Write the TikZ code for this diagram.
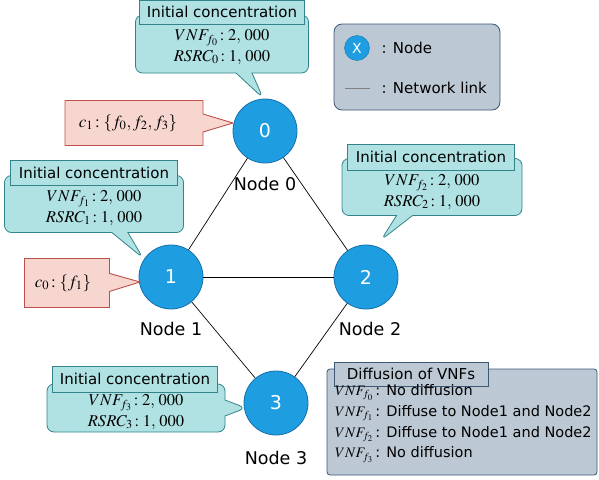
\documentclass[tikz,border=0pt]{standalone}
\usepackage{mathptmx}
\usepackage{fontspec}
\setsansfont{DejaVu Sans}
\usetikzlibrary{positioning,shapes.callouts}

\definecolor{nodeblue}{RGB}{30,158,224}
\definecolor{nodeedge}{RGB}{22,112,172}
\definecolor{tealfill}{RGB}{176,226,228}
\definecolor{tealedge}{RGB}{50,132,138}
\definecolor{redfill}{RGB}{248,214,208}
\definecolor{rededge}{RGB}{190,78,72}
\definecolor{grayfill}{RGB}{188,200,212}
\definecolor{grayedge}{RGB}{60,88,116}

\begin{document}
\begin{tikzpicture}[x=1pt,y=-1pt,
  netnode/.style={circle,draw=nodeedge,thick,fill=nodeblue,minimum size=64pt,inner sep=0pt,text=white,font=\sffamily\fontsize{19}{21}\selectfont},
  nodelab/.style={font=\sffamily\fontsize{17.5}{19}\selectfont},
  link/.style={draw=black,line width=0.7pt},
  initbox/.style={rectangle callout,draw=tealedge,line width=0.8pt,fill=tealfill,rounded corners=7pt,callout pointer width=16pt,inner sep=0pt},
  inithead/.style={rectangle,draw=tealedge,line width=0.8pt,fill=tealfill,inner sep=0pt,font=\sffamily\fontsize{15}{17}\selectfont},
  inittxt/.style={align=center,font=\fontsize{16.5}{20.5}\selectfont},
  confbox/.style={rectangle callout,draw=rededge,line width=0.9pt,fill=redfill,callout pointer width=18pt,inner sep=0pt,font=\fontsize{17}{19}\selectfont},
  infobox/.style={rectangle,draw=grayedge,line width=0.8pt,fill=grayfill,inner sep=0pt},
  infotxt/.style={font=\sffamily\fontsize{15}{17}\selectfont},
]
\useasboundingbox (0,0) rectangle (599,479);

% network nodes
\node[netnode] (n0) at (265,131) {0};
\node[netnode] (n1) at (171,277) {1};
\node[netnode] (n2) at (366,277) {2};
\node[netnode] (n3) at (276,403) {3};
\node[nodelab,below=10pt of n0] (l0) {Node 0};
\node[nodelab,below=9pt of n1] (l1) {Node 1};
\node[nodelab,below=9pt of n2,xshift=4pt] (l2) {Node 2};
\node[nodelab,below=12pt of n3] (l3) {Node 3};

% links
\draw[link] (n0) -- (n1);
\draw[link] (n0) -- (n2);
\draw[link] (n1) -- (n2);
\draw[link] (n1) -- (n3);
\draw[link] (n2) -- (n3);

% initial concentration callouts
\node[initbox,minimum width=173pt,minimum height=58pt,callout absolute pointer={(263,98)}] (ic0) at (222,44) {};
\node[inithead,minimum width=165pt,minimum height=24pt] (h0) at (222,12) {Initial concentration};
\node[inittxt] (v0) at (222,47) {$VNF_{f_0}\!:2,\,000$\\$RSRC_0\!:1,\,000$};

\node[initbox,minimum width=179pt,minimum height=57pt,callout absolute pointer={(143,258)}] (ic1) at (94,204) {};
\node[inithead,minimum width=167pt,minimum height=25pt] (h1) at (94,173) {Initial concentration};
\node[inittxt] (v1) at (94,208) {$VNF_{f_1}\!:2,\,000$\\$RSRC_1\!:1,\,000$};

\node[initbox,minimum width=180pt,minimum height=57pt,callout absolute pointer={(381,240)}] (ic2) at (432,187) {};
\node[inithead,minimum width=167pt,minimum height=26pt] (h2) at (431,157) {Initial concentration};
\node[inittxt] (v2) at (432,192) {$VNF_{f_2}\!:2,\,000$\\$RSRC_2\!:1,\,000$};

\node[initbox,minimum width=178pt,minimum height=48pt,callout absolute pointer={(246,408)}] (ic3) at (136,408) {};
\node[inithead,minimum width=165pt,minimum height=26pt] (h3) at (135,379) {Initial concentration};
\node[inittxt] (v3) at (136,412) {$VNF_{f_3}\!:2,\,000$\\$RSRC_3\!:1,\,000$};

% content callouts
\node[confbox,minimum width=138pt,minimum height=45pt,callout absolute pointer={(233,123)}] (c1) at (134,123) {$c_1\!:\{f_0,f_2,f_3\}$\hspace*{12pt}};
\node[confbox,minimum width=85pt,minimum height=49pt,callout absolute pointer={(140,282)}] (c0) at (67,283) {$c_0\!:\{f_1\}$\hspace*{8pt}};

% legend
\node[infobox,rounded corners=8pt,minimum width=166pt,minimum height=86pt] (legend) at (417,67) {};
\node[netnode,thin,minimum size=25pt,font=\sffamily\fontsize{14}{16}\selectfont] (lx) at (357,48) {X};
\node[infotxt,anchor=west] (lnode) at (378,48) {: Node};
\coordinate (la) at (345,88);
\coordinate (lb) at (370,88);
\draw[gray,line width=0.8pt] (la) -- (lb);
\node[infotxt,anchor=west] (llink) at (378,88) {: Network link};

% diffusion of VNFs
\node[infobox,rounded corners=3pt,minimum width=270pt,minimum height=106pt] (diff) at (462,422) {};
\node[infobox,infotxt,minimum width=154pt,minimum height=24pt] (dh) at (411,374) {Diffusion of VNFs};
\node[font=\sffamily\fontsize{14.5}{17}\selectfont,anchor=north west,inner sep=0pt] (dtxt) at (335,381) {\renewcommand{\arraystretch}{1.22}%
\begin{tabular}{@{}l@{\hspace{2pt}}l@{}}
{\fontsize{14.5}{16}\selectfont$VNF_{f_0}$} & : No diffusion\\
{\fontsize{14.5}{16}\selectfont$VNF_{f_1}$} & : Diffuse to Node1 and Node2\\
{\fontsize{14.5}{16}\selectfont$VNF_{f_2}$} & : Diffuse to Node1 and Node2\\
{\fontsize{14.5}{16}\selectfont$VNF_{f_3}$} & : No diffusion
\end{tabular}};
\end{tikzpicture}
\end{document}
